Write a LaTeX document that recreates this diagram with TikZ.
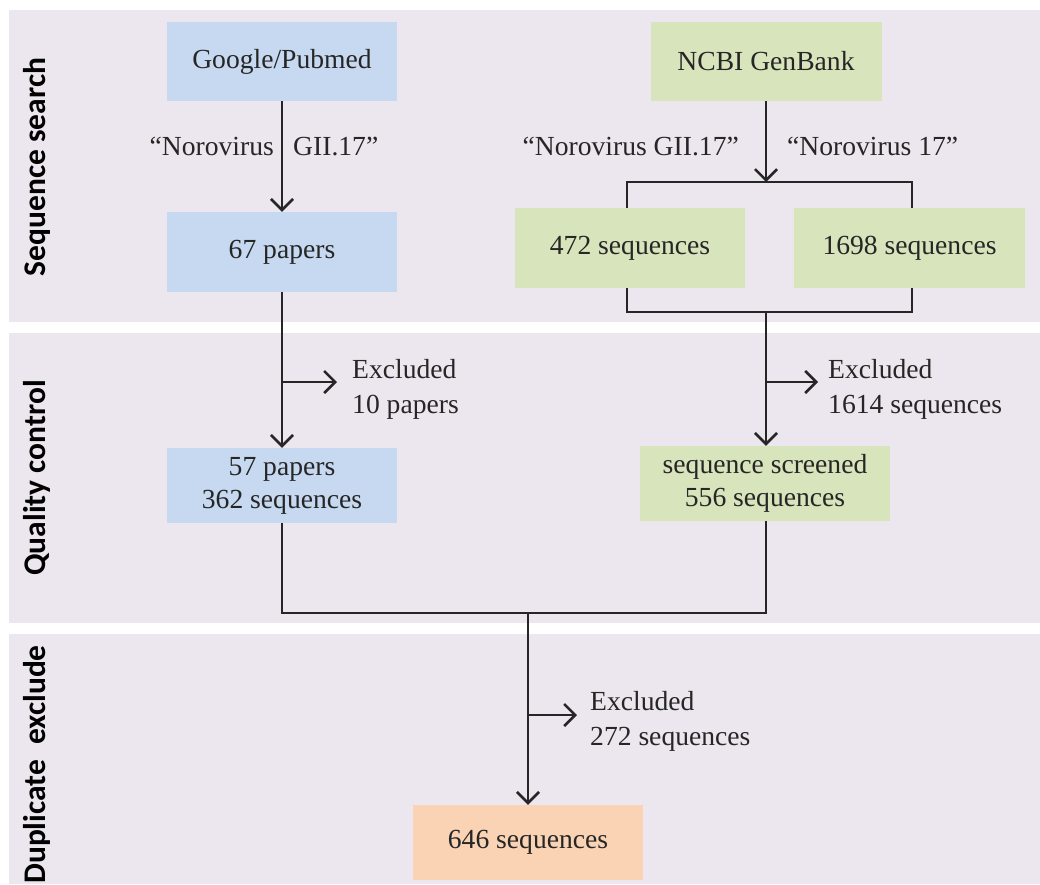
\documentclass[tikz,border=0pt]{standalone}
\usepackage{fontspec}
\setmainfont{Liberation Serif}
\newfontfamily\lanefont{Carlito}
\usetikzlibrary{arrows.meta}
\definecolor{bandbg}{HTML}{ECE7EE}
\definecolor{boxblue}{HTML}{C6D9F0}
\definecolor{boxgreen}{HTML}{D8E4BC}
\definecolor{boxorange}{HTML}{FAD3B4}
\definecolor{ink}{HTML}{262626}
\begin{document}
\begin{tikzpicture}[x=1pt,y=-1pt,
  every node/.style={font=\fontsize{27.6}{33}\selectfont, text=ink},
  box/.style={inner sep=0pt, minimum width=230pt, minimum height=79pt, align=center},
  note/.style={inner sep=0pt, align=left, anchor=west, font=\fontsize{27.6}{35}\selectfont},
  lbl/.style={inner sep=0pt},
  lane/.style={inner sep=0pt, rotate=90, font={\lanefont\bfseries\fontsize{31.5}{36}\selectfont}, text=black},
  conn/.style={draw=ink, line width=2.6pt, line join=miter},
  arr/.style={conn, -{Straight Barb[length=11pt,width=22pt]}}
]
\useasboundingbox (0,0) rectangle (1040,884);
\fill[white] (0,0) rectangle (1040,884);
\fill[bandbg] (9,10) rectangle (1040,322);
\fill[bandbg] (9,333) rectangle (1040,623);
\fill[bandbg] (9,634) rectangle (1040,884);

% lane labels
\node[lane, anchor=base] (l1) at (45,167) {Sequence search};
\node[lane, anchor=base] (l2) at (45,478) {Quality control};
\node[lane, anchor=base east] (l3) at (45,645) {Duplicate\hspace{15pt}exclude};

% boxes
\node[box, fill=boxblue] (gp) at (282,61.5) {Google/Pubmed};
\node[box, fill=boxblue, minimum height=80pt] (p67) at (282,252) {67 papers};
\node[box, fill=boxgreen, minimum width=231pt] (ncbi) at (766,61.5) {NCBI GenBank};
\node[box, fill=boxgreen, minimum height=80pt] (s472) at (630,248) {472 sequences};
\node[box, fill=boxgreen, minimum width=231pt, minimum height=80pt] (s1698) at (909.5,248) {1698 sequences};
\node[box, fill=boxblue, minimum height=75pt] (p57) at (282,485.5) {57 papers\\362 sequences};
\node[box, fill=boxgreen, minimum width=250pt, minimum height=75pt] (ss) at (765,483.5) {sequence screened\\556 sequences};
\node[box, fill=boxorange, minimum height=75pt] (s646) at (528,842.5) {646 sequences};

% search labels
\node[lbl, anchor=base east] (q1) at (274,155) {“Norovirus};
\node[lbl, anchor=base west] (q2) at (293,155) {GII.17”};
\node[lbl, anchor=base east] (q3) at (739,155) {“Norovirus GII.17”};
\node[lbl, anchor=base west] (q4) at (787,155) {“Norovirus 17”};

% left column
\draw[arr] (gp.south) -- (p67.north);
\draw[arr] (p67.south) -- (p57.north);
\coordinate (b1) at (282,382);
\coordinate (e1) at (337,382);
\draw[arr] (b1) -- (e1);
\node[note] (x1) at (352,389) {Excluded\\10 papers};

% right column
\coordinate (t1) at (766,182);
\coordinate (bl) at (627,182);
\coordinate (br) at (912,182);
\draw[arr] (ncbi.south) -- (t1);
\draw[conn] (s472.north -| bl) -- (bl) -- (br) -- (s1698.north -| br);
\coordinate (cl) at (627,312);
\coordinate (cr) at (912,312);
\coordinate (c0) at (766,312);
\draw[conn] (s472.south -| cl) -- (cl) -- (cr) -- (s1698.south -| cr);
\draw[arr] (c0) -- (ss.north -| c0);
\coordinate (b2) at (766,382);
\coordinate (e2) at (818,382);
\draw[arr] (b2) -- (e2);
\node[note] (x2) at (828,389) {Excluded\\1614 sequences};

% merge
\coordinate (ml) at (282,613);
\coordinate (mr) at (766,613);
\coordinate (m0) at (528,613);
\draw[conn] (p57.south) -- (ml) -- (mr) -- (ss.south -| mr);
\draw[arr] (m0) -- (s646.north);
\coordinate (b3) at (528,715);
\coordinate (e3) at (577,715);
\draw[arr] (b3) -- (e3);
\node[note] (x3) at (590,721) {Excluded\\272 sequences};
\end{tikzpicture}
\end{document}
